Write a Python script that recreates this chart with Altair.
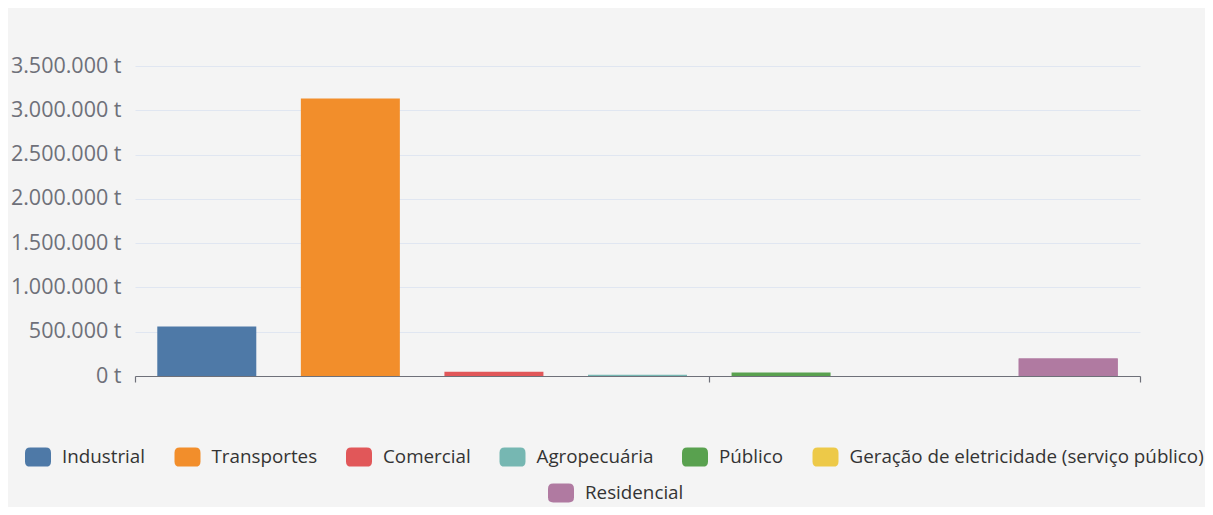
import altair as alt
import pandas as pd

categories = ["Industrial", "Transportes", "Comercial", "Agropecuária", "Público",
              "Geração de eletricidade (serviço público)", "Residencial"]
values = [560000, 3133000, 48000, 15000, 40000, 0, 198000]
colors = ["#4e79a7", "#f28e2b", "#e15759", "#76b7b2", "#59a14f", "#edc948", "#b07aa1"]
y_ticks = [0, 500000, 1000000, 1500000, 2000000, 2500000, 3000000, 3500000]
x_ticks = [0, 4, 7]

df = pd.DataFrame({
    "categoria": categories,
    "valor": values,
    "pos": [i + 0.5 for i in range(len(categories))],
})

FONT = "Open Sans"
ROUNDED = ("M-0.6,-0.73 L0.6,-0.73 Q1,-0.73 1,-0.33 L1,0.33 Q1,0.73 0.6,0.73 "
           "L-0.6,0.73 Q-1,0.73 -1,0.33 L-1,-0.33 Q-1,-0.73 -0.6,-0.73 Z")

legend_common = dict(
    orient="none", direction="horizontal", title=None,
    symbolType=ROUNDED, symbolSize=676, symbolStrokeWidth=0,
    labelFont=FONT, labelFontSize=18.8, labelColor="#333333",
    labelOffset=11, columnPadding=28.5, labelLimit=600, padding=0,
)

x_enc = alt.X("pos:Q", scale=alt.Scale(domain=[0, 7], nice=False, zero=False, padding=0),
              axis=alt.Axis(values=x_ticks, labels=False, grid=False, ticks=True,
                            tickSize=6, tickColor="#6e7079", domainColor="#6e7079",
                            domainWidth=1.2, tickWidth=1.2, title=None))
y_enc = alt.Y("valor:Q", scale=alt.Scale(domain=[0, 3500000], nice=False, padding=0),
              axis=alt.Axis(values=y_ticks, grid=True, gridColor="#e0e6f1",
                            domain=False, ticks=False, tickSize=0, labelPadding=14,
                            labelFont=FONT, labelFontSize=21.5, labelColor="#6e7079",
                            labelExpr="replace(replace(format(datum.value, ','), ',', '.'), ',', '.') + ' t'",
                            title=None))

bars = alt.Chart(df).mark_bar(size=99).encode(
    x=x_enc,
    y=y_enc,
    color=alt.Color("categoria:N", scale=alt.Scale(domain=categories, range=colors),
                    legend=alt.Legend(values=categories[:6], columns=6,
                                      legendX=-110, legendY=378, **legend_common)),
)

last = alt.Chart(df).transform_filter(
    alt.datum.categoria == categories[-1]
).mark_bar(size=99).encode(
    x=x_enc,
    y=y_enc,
    fill=alt.Fill("categoria:N", scale=alt.Scale(domain=categories[-1:], range=colors[-1:]),
                  legend=alt.Legend(columns=1, legendX=413, legendY=414, **legend_common)),
)

chart = alt.layer(bars, last).properties(
    width=1005, height=310,
    padding={"left": 127, "top": 58, "right": 65, "bottom": 131},
    autosize=alt.AutoSizeParams(type="none"),
    background="#f4f4f4",
).configure_view(stroke=None)

chart.save("out.html", embed_options={"renderer": "svg", "actions": False})
